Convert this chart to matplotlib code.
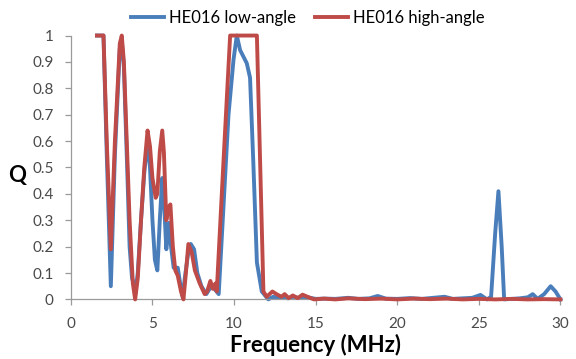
import numpy as np
import matplotlib
matplotlib.use('Agg')
import matplotlib.pyplot as plt

# low-angle (blue)
freq_low = [1.6, 2.0, 2.2, 2.45, 2.7, 3.0, 3.12, 3.25, 3.45, 3.6, 3.75, 3.85,
            3.95, 4.1, 4.3, 4.5, 4.7, 4.85, 5.0, 5.15, 5.3, 5.45, 5.6, 5.7, 5.85, 6.0,
            6.1, 6.3, 6.45, 6.55, 6.7, 6.85, 7.0, 7.2, 7.35, 7.55, 7.75, 8.0, 8.3, 8.6,
            8.8, 9.06, 9.66, 9.97, 10.17, 10.37, 10.78, 10.98, 11.18,
            11.4, 11.7, 12.1, 12.4, 12.7, 13.0, 13.3, 13.6, 14.0, 14.5, 15.0,
            15.6, 16.2, 17.0, 17.6, 18.3, 18.8, 19.3, 20.0, 20.8, 21.5, 22.2, 22.9,
            23.4, 24.0, 24.6, 25.1, 25.5, 25.75, 26.0, 26.2, 26.4, 26.55, 27.0, 27.5,
            28.0, 28.3, 28.6, 29.0, 29.4, 29.7, 30.0]
q_low = [1.0, 1.0, 0.55, 0.05, 0.55, 0.95, 0.98, 0.88, 0.5, 0.2, 0.08, 0.06,
         0.02, 0.1, 0.3, 0.48, 0.6, 0.5, 0.3, 0.15, 0.11, 0.3, 0.46, 0.38, 0.19, 0.29,
         0.22, 0.12, 0.12, 0.12, 0.06, 0.01, 0.09, 0.18, 0.21, 0.19, 0.1, 0.05, 0.02, 0.05,
         0.04, 0.02, 0.7, 0.91, 1.0, 0.945, 0.895, 0.84, 0.52,
         0.14, 0.03, 0.0, 0.01, 0.005, 0.008, 0.004, 0.01, 0.005, 0.008, 0.002,
         0.003, 0.002, 0.006, 0.002, 0.004, 0.013, 0.003, 0.002, 0.005, 0.002, 0.006, 0.01,
         0.002, 0.004, 0.006, 0.017, 0.0, 0.01, 0.25, 0.41, 0.2, 0.0, 0.002, 0.004,
         0.008, 0.02, 0.002, 0.02, 0.05, 0.03, 0.0]

# high-angle (red)
freq_high = [1.6, 2.0, 2.2, 2.45, 2.7, 3.0, 3.12, 3.25, 3.6, 3.8,
             3.94, 4.1, 4.3, 4.5, 4.7, 4.85, 5.0, 5.2, 5.3, 5.45, 5.6, 5.7, 5.85, 6.0,
             6.1, 6.25, 6.4, 6.55, 6.75, 6.9, 7.05, 7.2, 7.4, 7.6, 7.9, 8.2, 8.35, 8.55,
             8.7, 8.85, 8.94, 9.35, 9.76, 11.4, 11.8, 12.0, 12.35, 12.6,
             12.9, 13.1, 13.35, 13.6, 13.9, 14.2, 14.5, 14.9, 15.5, 16.2, 17.0, 18.0,
             19.0, 20.0, 21.0, 22.0, 23.0, 24.0, 25.0, 26.0, 27.0, 28.0, 29.0, 30.0]
q_high = [1.0, 1.0, 0.6, 0.19, 0.6, 0.97, 1.0, 0.9, 0.3, 0.06,
          0.0, 0.08, 0.3, 0.5, 0.64, 0.58, 0.46, 0.385, 0.4, 0.56, 0.64, 0.56, 0.3, 0.35,
          0.36, 0.2, 0.11, 0.09, 0.03, 0.0, 0.1, 0.21, 0.18, 0.11, 0.06, 0.02, 0.03, 0.07,
          0.04, 0.06, 0.03, 0.52, 1.0, 1.0, 0.03, 0.01, 0.03, 0.02,
          0.01, 0.02, 0.005, 0.015, 0.005, 0.018, 0.01, 0.0, 0.003, 0.0, 0.004, 0.001,
          0.003, 0.0, 0.003, 0.001, 0.003, 0.0, 0.002, 0.0, 0.002, 0.0, 0.001, 0.0]

x_ticks = [0, 5, 10, 15, 20, 25, 30]
y_ticks = [0, 0.1, 0.2, 0.3, 0.4, 0.5, 0.6, 0.7, 0.8, 0.9, 1]
y_labels = ['0', '0.1', '0.2', '0.3', '0.4', '0.5', '0.6', '0.7', '0.8', '0.9', '1']

plt.rcParams['font.family'] = ['Lato', 'DejaVu Sans']

fig = plt.figure(figsize=(5.76, 3.59), dpi=100)
ax = fig.add_axes([0.123, 0.166, 0.850, 0.735])

blue = '#4a7ebb'
red = '#be4b48'
# Excel doesn't clip the line at the axis limits
ax.plot(freq_low, q_low, color=blue, lw=2.8, label='HE016 low-angle',
        solid_joinstyle='round', zorder=2, clip_on=False)
ax.plot(freq_high, q_high, color=red, lw=2.8, label='HE016 high-angle',
        solid_joinstyle='round', zorder=3, clip_on=False)

ax.set_xlim(0, 30)
ax.set_ylim(0, 1)
ax.set_xticks(x_ticks)
ax.set_yticks(y_ticks)
ax.set_yticklabels(y_labels)

for s in ['top', 'right']:
    ax.spines[s].set_visible(False)
for s in ['left', 'bottom']:
    ax.spines[s].set_color('#9a9a9a')
    ax.spines[s].set_linewidth(0.9)
ax.tick_params(colors='#9a9a9a', labelcolor='#4a4a4a', labelsize=11,
               length=4.5, width=0.9)
ax.tick_params(axis='x', pad=8)
ax.tick_params(axis='y', pad=8)

ax.set_xlabel('Frequency (MHz)', fontsize=16, fontweight='bold', labelpad=2)
ax.set_ylabel('Q', fontsize=16, fontweight='bold', rotation=0, va='center')
ax.yaxis.set_label_coords(-0.11, 0.468)

ax.legend(loc='upper center', bbox_to_anchor=(0.484, 1.155), ncol=2, frameon=False,
          fontsize=12, handlelength=2.0, columnspacing=1.1, handletextpad=0.3)

fig.savefig('out.png', dpi=100)
